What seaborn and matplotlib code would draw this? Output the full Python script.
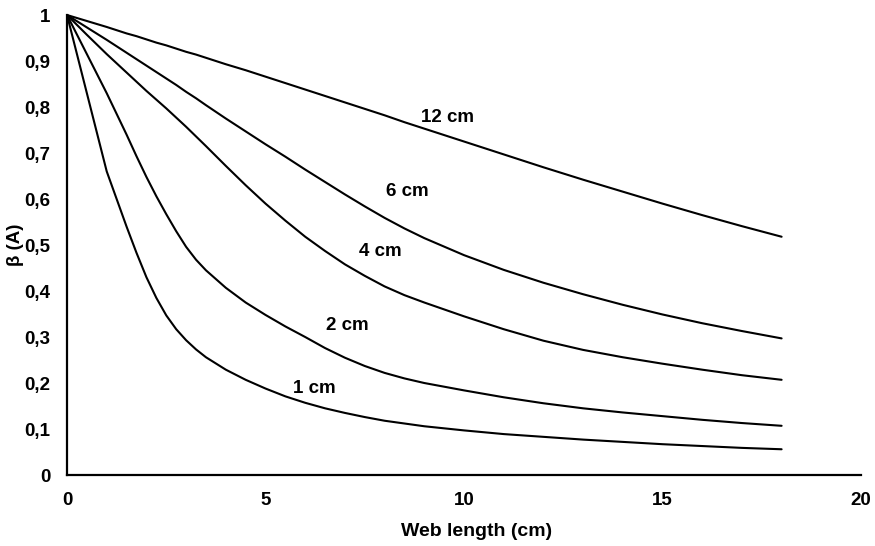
import matplotlib
matplotlib.use("Agg")
import matplotlib.pyplot as plt
import seaborn as sns
import pandas as pd

# Web length (cm) at which beta was evaluated
web_length = [0, 0.5, 1, 1.5, 1.75, 2, 2.25, 2.5, 2.75, 3, 3.25, 3.5, 4, 4.5,
              5, 5.5, 6, 6.5, 7, 7.5, 8, 8.5, 9, 10, 11, 12, 13, 14, 15, 16,
              17, 18]

# beta(A) for each web thickness
beta_1cm = [1.00, 0.83, 0.66, 0.54, 0.483, 0.43, 0.385, 0.347, 0.317, 0.293,
            0.273, 0.256, 0.229, 0.207, 0.188, 0.171, 0.157, 0.145, 0.135,
            0.126, 0.118, 0.112, 0.106, 0.097, 0.089, 0.083, 0.077, 0.072,
            0.067, 0.063, 0.059, 0.056]
beta_2cm = [1.00, 0.915, 0.83, 0.74, 0.693, 0.648, 0.606, 0.567, 0.530, 0.496,
            0.468, 0.445, 0.407, 0.375, 0.348, 0.323, 0.300, 0.276, 0.255,
            0.237, 0.222, 0.210, 0.200, 0.184, 0.169, 0.156, 0.145, 0.136,
            0.128, 0.120, 0.113, 0.107]
beta_4cm = [1.00, 0.957, 0.915, 0.875, 0.855, 0.835, 0.816, 0.797, 0.777, 0.757,
            0.736, 0.715, 0.672, 0.63, 0.59, 0.553, 0.518, 0.487, 0.458, 0.433,
            0.41, 0.391, 0.375, 0.345, 0.317, 0.292, 0.272, 0.256, 0.242,
            0.229, 0.217, 0.207]
beta_6cm = [1.00, 0.973, 0.946, 0.918, 0.904, 0.890, 0.876, 0.862, 0.848, 0.833,
            0.819, 0.804, 0.775, 0.747, 0.719, 0.692, 0.664, 0.637, 0.610,
            0.584, 0.559, 0.536, 0.515, 0.478, 0.446, 0.418, 0.393, 0.370,
            0.349, 0.330, 0.313, 0.297]
beta_12cm = [1.00, 0.987, 0.974, 0.960, 0.954, 0.947, 0.940, 0.934, 0.927,
             0.920, 0.914, 0.907, 0.893, 0.880, 0.866, 0.852, 0.838, 0.824,
             0.810, 0.796, 0.782, 0.767, 0.753, 0.725, 0.697, 0.669, 0.642,
             0.616, 0.590, 0.565, 0.541, 0.518]

series_names = ["1 cm", "2 cm", "4 cm", "6 cm", "12 cm"]
series_values = [beta_1cm, beta_2cm, beta_4cm, beta_6cm, beta_12cm]

# Curve label anchor positions (data coordinates)
label_x = [6.24, 7.07, 7.88, 8.57, 9.59]
label_y = [0.189, 0.326, 0.485, 0.616, 0.778]

x_ticks = [0, 5, 10, 15, 20]
y_ticks = [0, 0.1, 0.2, 0.3, 0.4, 0.5, 0.6, 0.7, 0.8, 0.9, 1.0]
y_tick_labels = ["0", "0,1", "0,2", "0,3", "0,4", "0,5", "0,6", "0,7",
                 "0,8", "0,9", "1"]

frames = [pd.DataFrame({"web_length": web_length, "beta": vals, "thickness": name})
          for name, vals in zip(series_names, series_values)]
df = pd.concat(frames, ignore_index=True)

sns.set_theme(style="white")
plt.rcParams["font.family"] = ["Liberation Sans", "DejaVu Sans"]
plt.rcParams["font.weight"] = "bold"

fig = plt.figure(figsize=(8.75, 5.46), dpi=100)
ax = fig.add_axes([0.0766, 0.1300, 0.9074, 0.8425])

sns.lineplot(data=df, x="web_length", y="beta", hue="thickness",
             palette={n: "black" for n in series_names}, linewidth=1.5,
             legend=False, sort=False, ax=ax, clip_on=False)

for name, lx, ly in zip(series_names, label_x, label_y):
    ax.text(lx, ly, name, ha="center", va="center", fontsize=13.5,
            fontweight="bold", color="black")

ax.set_xlim(0, 20)
ax.set_ylim(0, 1)
ax.set_xticks(x_ticks)
ax.set_xticklabels([str(t) for t in x_ticks])
ax.set_yticks(y_ticks)
ax.set_yticklabels(y_tick_labels)

for side in ["top", "right"]:
    ax.spines[side].set_visible(False)
for side in ["left", "bottom"]:
    ax.spines[side].set_color("black")
    ax.spines[side].set_linewidth(1.6)

ax.tick_params(axis="both", which="major", direction="out", length=4,
               width=1, color="black", labelsize=13.5, labelcolor="black")
ax.tick_params(axis="x", pad=8)
ax.tick_params(axis="y", pad=8)
for lab in ax.get_xticklabels() + ax.get_yticklabels():
    lab.set_fontweight("bold")

ax.set_xlabel("Web length (cm)", fontsize=14, fontweight="bold", color="black")
ax.set_ylabel("β (A)", fontsize=13.5, fontweight="bold", color="black")
ax.xaxis.set_label_coords(0.516, -0.105)
ax.yaxis.set_label_coords(-0.054, 0.5)

fig.savefig("out.png", dpi=100, facecolor="white")
